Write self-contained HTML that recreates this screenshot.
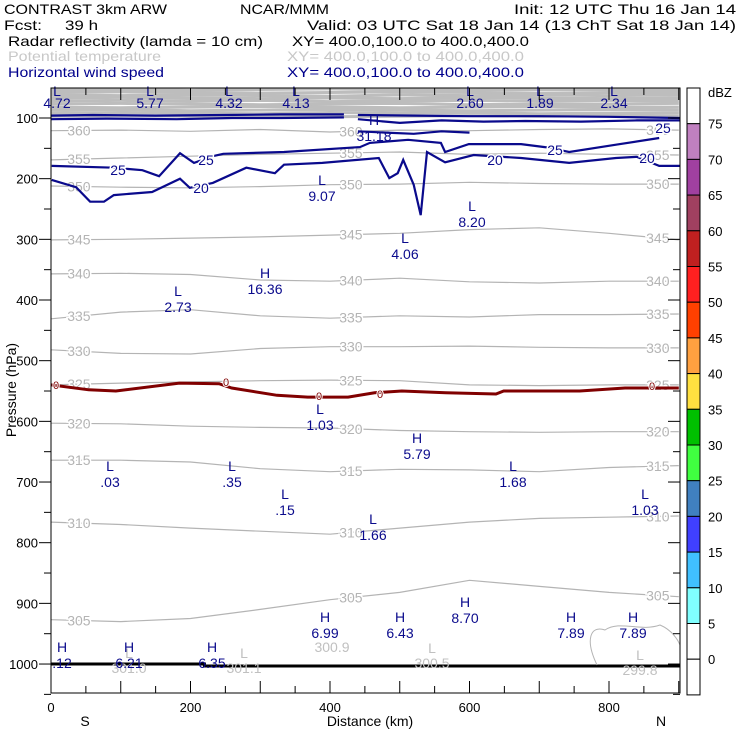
<!DOCTYPE html>
<html><head><meta charset="utf-8"><style>
html,body{margin:0;padding:0;background:#fff}
svg{display:block;font-family:"Liberation Sans",sans-serif}
</style></head><body>
<svg id="chart" width="740" height="740" viewBox="0 0 740 740">
<g font-size="14" lengthAdjust="spacingAndGlyphs">
<text x="4" y="14" textLength="163" lengthAdjust="spacingAndGlyphs">CONTRAST  3km ARW</text>
<text x="240" y="14" textLength="89" lengthAdjust="spacingAndGlyphs">NCAR/MMM</text>
<text x="514" y="14" textLength="222" lengthAdjust="spacingAndGlyphs">Init: 12 UTC Thu 16 Jan 14</text>
<text x="4" y="30" textLength="38" lengthAdjust="spacingAndGlyphs">Fcst:</text>
<text x="65" y="30" textLength="33" lengthAdjust="spacingAndGlyphs">39 h</text>
<text x="307" y="30" textLength="429" lengthAdjust="spacingAndGlyphs">Valid: 03 UTC Sat 18 Jan 14 (13 ChT Sat 18 Jan 14)</text>
<text x="8" y="46" textLength="255" lengthAdjust="spacingAndGlyphs">Radar reflectivity (lamda = 10 cm)</text>
<text x="292" y="46" textLength="237" lengthAdjust="spacingAndGlyphs">XY= 400.0,100.0 to 400.0,400.0</text>
<text x="8" y="61" textLength="153" lengthAdjust="spacingAndGlyphs" fill="#c8c8c8">Potential temperature</text>
<text x="287" y="61" textLength="237" lengthAdjust="spacingAndGlyphs" fill="#c8c8c8">XY= 400.0,100.0 to 400.0,400.0</text>
<text x="8" y="77" textLength="156" lengthAdjust="spacingAndGlyphs" fill="#00008c">Horizontal wind speed</text>
<text x="287" y="77" textLength="237" lengthAdjust="spacingAndGlyphs" fill="#00008c">XY= 400.0,100.0 to 400.0,400.0</text>
</g>
<g id="plot"></g>
</svg>
<script>
// ---- data ----
const xKm = [0,100,200,300,400,500,600,700,800,900];
const thetaLevels = [360,355,350,345,340,335,330,325,320,315,310,305];
const thetaP = [
 [121,120,122,119,123,120,121,119,118,120],
 [169,166,163,160,158,156,160,158,160,161],
 [212,214,215,213,210,209,206,208,209,209],
 [301,300,298,296,293,290,284,281,290,301],
 [357,356,358,367,369,364,370,372,369,369],
 [431,420,416,426,430,426,428,424,424,423],
 [482,488,489,480,477,477,476,478,479,479],
 [540,537,535,533,532,533,540,541,540,540],
 [603,604,608,610,611,615,617,618,617,617],
 [664,664,667,678,683,679,680,683,676,673],
 [766,770,776,781,786,776,766,760,758,756],
 [927,930,925,910,894,882,862,872,882,889]
];
const stratLevels = [410,405,400,395,390,385,380,375,370,365];
const stratP = [
 [53,53,54,53,52,53,54,53,53,53],
 [58,57,58,59,58,57,58,59,58,58],
 [62,63,62,63,64,62,63,62,63,62],
 [67,66,67,68,67,68,66,67,68,67],
 [72,71,72,71,73,72,71,72,71,72],
 [77,76,77,78,77,76,78,77,77,76],
 [82,83,82,81,82,83,82,81,82,82],
 [87,86,88,87,86,87,88,87,86,87],
 [92,91,92,93,91,92,91,93,92,92],
 [97,96,97,96,98,97,96,97,96,97]
];
// wind speed contours (km, hPa)
const wind20Km = [1,36,56,76,90,145,185,199,232,280,321,334,389,470,485,497,505,520,530,539,565,606,674,743,810,840,872,903];
const wind20P = [202,214,238,238,227,222,200,215,207,182,191,177,174,166,199,191,169,210,260,156,173,161,166,174,166,164,179,179];
const wind25Km = [1,90,131,155,185,205,232,247,334,443,457,512,559,565,599,674,708,743,810,872];
const wind25P = [179,182,186,196,158,174,163,159,156,148,141,136,141,156,143,143,148,156,144,133];
const windTop1Km = [0,60,150,250,330,420];
const windTop1P = [96,95,96,95,94,94];
const windTop2Km = [0,80,180,260,330,420];
const windTop2P = [102,101,102,100,100,99];
const windTop3Km = [440,520,600,700,800,903];
const windTop3P = [95,96,97,97,98,100];
const windTop4Km = [440,500,560,620,680,760,840,903];
const windTop4P = [102,108,104,106,105,106,104,104];
const windTop5Km = [440,480,520,560,600];
const windTop5P = [122,124,126,122,124];
const freezeKm = [0,54,93,184,241,259,324,368,426,464,503,566,638,649,758,823,900];
const freezeP = [540,548,550,537,538,545,557,560,560,553,550,553,555,550,550,545,545];
const dbzLevels = [0,5,10,15,20,25,30,35,40,45,50,55,60,65,70,75];
const dbzColors = ["#ffffff","#80ffff","#40c0ff","#4040ff","#4080c0","#40ff40","#00c000","#ffe040","#ffa040","#ff4000","#ff2020","#c02020","#a04060","#a040a0","#c080c0"];
const pTicks = [100,200,300,400,500,600,700,800,900,1000];
const xTicks = [0,200,400,600,800];

// ---- axes ----
const X0=51,X1=680,Y0=88,Y1=693;
const xs = km => X0 + km*0.6975;
const ys = p => 118 + (p-100)*0.6067;
const NS="http://www.w3.org/2000/svg";
const plot=document.getElementById('plot');
function el(tag,attrs,parent){const e=document.createElementNS(NS,tag);for(const k in attrs)e.setAttribute(k,attrs[k]);(parent||plot).appendChild(e);return e;}
function interp(arrX,arrY,x){for(let i=0;i<arrX.length-1;i++){if(x>=arrX[i]&&x<=arrX[i+1]){const t=(x-arrX[i])/(arrX[i+1]-arrX[i]);return arrY[i]+t*(arrY[i+1]-arrY[i]);}}return arrY[arrY.length-1];}
function pathFrom(kms,ps){return kms.map((k,i)=>(i?'L':'M')+xs(k).toFixed(1)+','+ys(ps[i]).toFixed(1)).join(' ');}

const defs=el('defs',{});
const cp=el('clipPath',{id:'clip'},defs);
el('rect',{x:X0,y:Y0,width:X1-X0,height:Y1-Y0},cp);
const g=el('g',{'clip-path':'url(#clip)'});



stratP.forEach((ps,i)=>{
  const p=el('path',{d:pathFrom(xKm,ps),fill:'none',stroke:'#bdbdbd','stroke-width':3},g);
  
  
});
thetaP.forEach((ps,i)=>{
  const p=el('path',{d:pathFrom(xKm,ps),fill:'none',stroke:'#b4b4b4','stroke-width':1.2},g);
  
  
  [40,430,870].forEach(k=>{
    const t=el('text',{x:xs(k),y:ys(interp(xKm,ps,k))+5,'font-size':14,fill:'#b4b4b4','text-anchor':'middle',stroke:'#fff','stroke-width':3,'paint-order':'stroke'},g);
    t.textContent=thetaLevels[i];
    
    
  });
});
[[wind20Km,wind20P,'wind-contour-20'],[wind25Km,wind25P,'wind-contour-25'],[windTop1Km,windTop1P,'wind-contour-25-top'],[windTop2Km,windTop2P,'wind-contour-25-top'],[windTop3Km,windTop3P,'wind-contour-25-top'],[windTop4Km,windTop4P,'wind-contour-25-top'],[windTop5Km,windTop5P,'wind-contour-30']].forEach(w=>{
  const p=el('path',{d:pathFrom(w[0],w[1]),fill:'none',stroke:'#0a0a8c','stroke-width':2.2},g);
  
  
});
const fz=el('path',{d:pathFrom(freezeKm,freezeP),fill:'none',stroke:'#800000','stroke-width':3},g);


const gr=el('path',{d:`M${X0},664 L${xs(220)},664 L${xs(220)},666 L${X1},666`,fill:'none',stroke:'#000','stroke-width':3},g);


const sc=el('path',{d:`M597,665 C585,640 590,625 605,630 C620,620 640,632 660,625 C672,630 678,640 680,645`,fill:'none',stroke:'#b4b4b4','stroke-width':1},g);



const windLabels=[[118,175,'25'],[206,165,'25'],[201,193,'20'],[495,165,'20'],[555,155,'25'],[663,133,'25'],[647,163,'20']];
windLabels.forEach(l=>{
  const t=el('text',{x:l[0],y:l[1],'font-size':14,fill:'#0a0a8c','text-anchor':'middle',stroke:'#fff','stroke-width':3,'paint-order':'stroke'});
  t.textContent=l[2];
  
  
});
[[56,389],[226,386],[319,400],[380,398],[652,390]].forEach(l=>{
  const t=el('text',{x:l[0],y:l[1],'font-size':11,fill:'#800000','text-anchor':'middle',stroke:'#fff','stroke-width':2,'paint-order':'stroke'});
  t.textContent='0';
  
  
});

const hl=[
 ['L','4.72',57,91,103,'#0a0a8c'],['L','5.77',150,91,103,'#0a0a8c'],['L','4.32',229,91,103,'#0a0a8c'],['L','4.13',296,91,103,'#0a0a8c'],
 ['L','2.60',470,91,103,'#0a0a8c'],['L','1.89',540,91,103,'#0a0a8c'],['L','2.34',614,91,103,'#0a0a8c'],
 ['H','31.18',374,120,136,'#0a0a8c'],['L','9.07',322,180,196,'#0a0a8c'],['L','8.20',472,206,222,'#0a0a8c'],
 ['L','4.06',405,238,254,'#0a0a8c'],['H','16.36',265,273,289,'#0a0a8c'],['L','2.73',178,291,307,'#0a0a8c'],
 ['L','1.03',320,409,425,'#0a0a8c'],['H','5.79',417,438,454,'#0a0a8c'],['L','.03',110,466,482,'#0a0a8c'],
 ['L','.35',232,466,482,'#0a0a8c'],['L','1.68',513,466,482,'#0a0a8c'],['L','.15',285,494,510,'#0a0a8c'],
 ['L','1.66',373,519,535,'#0a0a8c'],['L','1.03',645,494,510,'#0a0a8c'],
 ['H','6.99',325,617,633,'#0a0a8c'],['H','6.43',400,617,633,'#0a0a8c'],['H','8.70',465,602,618,'#0a0a8c'],
 ['H','7.89',571,617,633,'#0a0a8c'],['H','7.89',633,617,633,'#0a0a8c'],
 ['L','301.0',129,653,668,'#c0c0c0'],['L','301.1',244,653,668,'#c0c0c0'],['','300.9',332,0,647,'#c0c0c0'],
 ['L','300.5',432,648,663,'#c0c0c0'],['L','299.8',640,655,670,'#c0c0c0'],
 ['H','.12',62,647,663,'#0a0a8c'],['H','6.21',129,647,663,'#0a0a8c'],['H','6.35',212,647,663,'#0a0a8c']
];
hl.forEach(h=>{
  if(h[0]){const a=el('text',{x:h[2],y:h[3]+5,'font-size':14,fill:h[5],'text-anchor':'middle'});a.textContent=h[0];
  
  }
  const b=el('text',{x:h[2],y:h[4]+5,'font-size':14,fill:h[5],'text-anchor':'middle'});b.textContent=h[1];
  
  
});

const fr=el('rect',{x:X0,y:Y0,width:X1-X0,height:Y1-Y0,fill:'none',stroke:'#000','stroke-width':1});


for(let p=100;p<=1050;p+=50){
  const y=ys(p), major=p%100===0;
  el('line',{x1:X0-(major?12:7),x2:X0,y1:y,y2:y,stroke:'#000'});
  el('line',{x1:X1-(major?12:7),x2:X1,y1:y,y2:y,stroke:'#000'});
}
pTicks.forEach(p=>{
  const t=el('text',{x:38,y:ys(p)+5,'font-size':13,'text-anchor':'end'});t.textContent=p;
  
  
});
for(let k=0;k<=900;k+=50){
  const x=xs(k), major=k%100===0;
  el('line',{x1:x,x2:x,y1:Y1-(major?12:7),y2:Y1,stroke:'#000'});
  el('line',{x1:x,x2:x,y1:Y0,y2:Y0+(major?12:7),stroke:'#000'});
}
xTicks.forEach(k=>{
  const t=el('text',{x:xs(k),y:712,'font-size':13,'text-anchor':'middle'});t.textContent=k;
  
  
});
const yt=el('text',{x:0,y:0,'font-size':14,'text-anchor':'middle',transform:'translate(16,390) rotate(-90)'});yt.textContent='Pressure (hPa)';


const xt=el('text',{x:370,y:726,'font-size':14,'text-anchor':'middle'});xt.textContent='Distance (km)';


const sl=el('text',{x:85,y:726,'font-size':14,'text-anchor':'middle'});sl.textContent='S';


const nl=el('text',{x:661,y:726,'font-size':14,'text-anchor':'middle'});nl.textContent='N';



const CB0=88, CBH=35.7, CBX=687, CBW=13;
const nBoxes=dbzColors.length+2;
for(let i=0;i<nBoxes;i++){
  let c='#ffffff';
  if(i>=1&&i<=dbzColors.length) c=dbzColors[dbzColors.length-i];
  const r=el('rect',{x:CBX,y:CB0+i*CBH,width:CBW,height:CBH,fill:c,stroke:'#000','stroke-width':1});
  
  
}
dbzLevels.forEach(v=>{
  const idx=dbzLevels.length-dbzLevels.indexOf(v);
  const t=el('text',{x:708,y:CB0+idx*CBH+5,'font-size':13});t.textContent=v;
  
  
});
const cu=el('text',{x:708,y:97,'font-size':13});cu.textContent='dBZ';


</script>
</body></html>
